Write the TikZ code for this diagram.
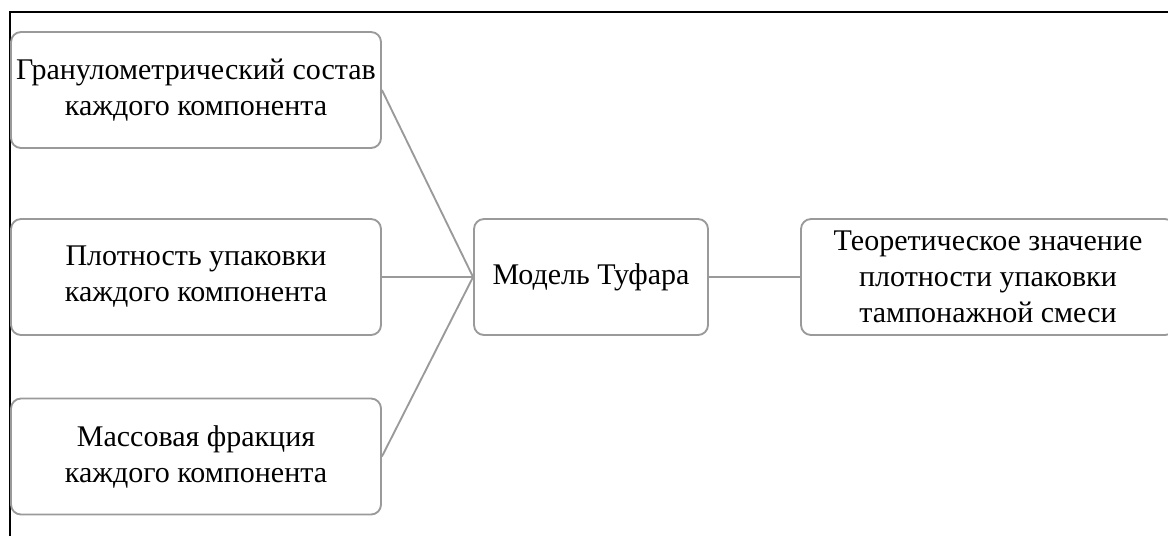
\documentclass[tikz,border=0pt]{standalone}
\usepackage{fontspec}
\setmainfont{Liberation Serif}
\begin{document}
\begin{tikzpicture}[x=0.75pt,y=-0.75pt,
  box/.style={draw=boxgray, line width=1.4pt, rounded corners=7.5pt, fill=white,
    align=center, font=\fontsize{22.5}{27}\selectfont, minimum height=87pt, inner sep=0pt},
  wide/.style={box, minimum width=277.5pt},
  conn/.style={draw=boxgray, line width=1.4pt}]
\definecolor{boxgray}{HTML}{9A9A9A}
\useasboundingbox (0,0) rectangle (1168,536);
\clip (0,0) rectangle (1168,536);
\draw[black, line width=0.9pt] (10,536) -- (10,12) -- (1168,12);
\node[wide] (g) at (196,90) {Гранулометрический состав\\каждого компонента};
\node[wide] (p) at (196,277) {Плотность упаковки\\каждого компонента};
\node[wide] (m) at (196,456.5) {Массовая фракция\\каждого компонента};
\node[box, minimum width=175.5pt] (t) at (591,277) {Модель Туфара};
\node[box, minimum width=280.5pt] (r) at (988,277) {Теоретическое значение\\плотности упаковки\\тампонажной смеси};
\draw[conn] (g.east) -- (t.west);
\draw[conn] (p.east) -- (t.west);
\draw[conn] (m.east) -- (t.west);
\draw[conn] (t.east) -- (r.west);
\end{tikzpicture}
\end{document}
